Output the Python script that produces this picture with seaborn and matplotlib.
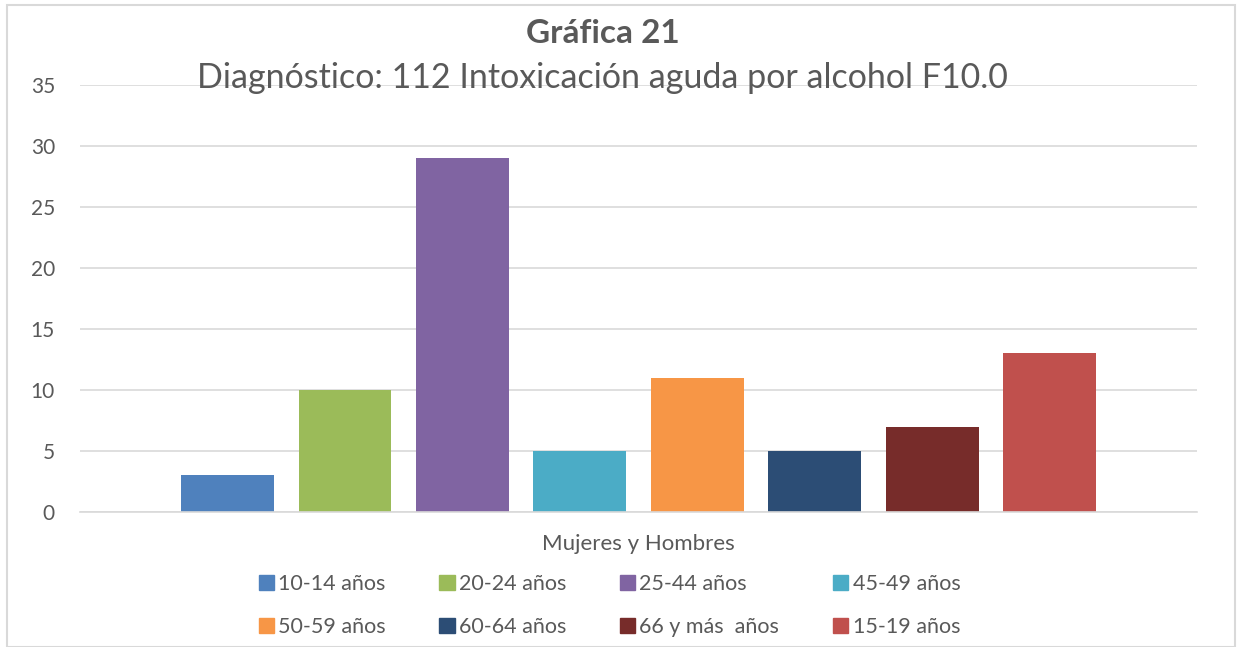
import seaborn as sns
import matplotlib.pyplot as plt
import pandas as pd
from matplotlib.patches import Rectangle

# data
categoria = ["Mujeres y Hombres"]
grupos = ["10-14 años", "20-24 años", "25-44 años", "45-49 años",
          "50-59 años", "60-64 años", "66 y más  años", "15-19 años"]
valores = [3, 10, 29, 5, 11, 5, 7, 13]
colores = ["#4F81BD", "#9BBB59", "#8064A2", "#4BACC6",
           "#F79646", "#2C4D75", "#772C2A", "#C0504D"]
y_ticks = [0, 5, 10, 15, 20, 25, 30, 35]

df = pd.DataFrame({"cat": categoria * len(grupos), "grupo": grupos, "valor": valores})

sns.set_style("white")
plt.rcParams["font.family"] = ["Lato", "DejaVu Sans"]
gris = "#595959"

fig = plt.figure(figsize=(12.4, 6.47), dpi=100)
ax = fig.add_axes([0.0645, 0.2087, 0.901, 0.66])

sns.barplot(data=df, x="cat", y="valor", hue="grupo", hue_order=grupos,
            palette=colores, width=0.841, gap=0.21, saturation=1,
            linewidth=0, legend=False, ax=ax)

ax.set_xlim(-0.5, 0.5)
ax.set_ylim(0, 35)
ax.set_yticks(y_ticks)
ax.yaxis.grid(True, color="#d9d9d9", linewidth=1.2)
ax.set_axisbelow(True)
for s in ["top", "right", "left"]:
    ax.spines[s].set_visible(False)
ax.spines["bottom"].set_color("#d9d9d9")
ax.spines["bottom"].set_linewidth(1.2)
ax.tick_params(axis="y", length=0, labelsize=15, labelcolor=gris, pad=18)
ax.tick_params(axis="x", length=0, labelsize=16, labelcolor=gris, pad=16)
ax.set_xlabel("")
ax.set_ylabel("")

fig.text(0.486, 0.948, "Gráfica 21", ha="center", va="center",
         fontsize=24, fontweight="bold", color=gris)
fig.text(0.486, 0.879, "Diagnóstico: 112 Intoxicación aguda por alcohol F10.0",
         ha="center", va="center", fontsize=24.5, color=gris)

# legend filled row by row like the original (matplotlib fills by column)
orden = [0, 4, 1, 5, 2, 6, 3, 7]
handles = [Rectangle((0, 0), 1, 1, color=colores[i]) for i in orden]
etiquetas = [grupos[i] for i in orden]
fig.legend(handles, etiquetas, ncol=4, loc="center", bbox_to_anchor=(0.4915, 0.064),
           frameon=False, fontsize=15.5, labelcolor=gris, handlelength=0.7,
           handleheight=0.7, handletextpad=0.2, columnspacing=2.5,
           labelspacing=1.08)

fig.patches.append(Rectangle((0.006, 0.0), 0.99, 0.992, transform=fig.transFigure,
                             fill=False, edgecolor="#d9d9d9", linewidth=1.5))

fig.savefig("out.png", dpi=100)
